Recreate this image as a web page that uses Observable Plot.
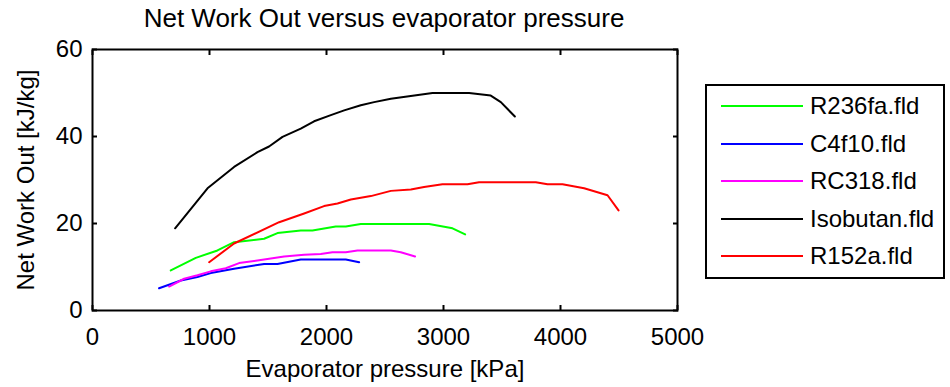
<!DOCTYPE html>
<html>
<head>
<meta charset="utf-8">
<script src="https://cdn.jsdelivr.net/npm/d3@7"></script>
<script src="https://cdn.jsdelivr.net/npm/@observablehq/plot@0.6"></script>
<style>
  html, body { margin: 0; padding: 0; background: #fff; }
  #wrap { position: relative; width: 950px; height: 387px; font-family: "Liberation Sans", Arial, sans-serif; }
  #title { position: absolute; left: 0; width: 768px; top: 3px; text-align: center; font-size: 26px; color: #000; white-space: nowrap; }
  #legend { position: absolute; left: 705px; top: 84px; width: 236px; height: 191px; border: 2px solid #000; background: #fff; }
  .item { position: absolute; left: 0; height: 30px; width: 236px; font-size: 24px; }
  .item svg { position: absolute; left: 14px; top: 14px; }
  .item span { position: absolute; left: 103px; top: 0; line-height: 30px; }
</style>
</head>
<body>
<div id="wrap">
  <div id="title">Net Work Out versus evaporator pressure</div>
  <div id="chart"></div>
  <div id="legend"></div>
</div>
<script>
// Series names and colours
const seriesNames = ["R236fa.fld", "C4f10.fld", "RC318.fld", "Isobutan.fld", "R152a.fld"];
const seriesColors = ["#00ff00", "#0000ff", "#ff00ff", "#000000", "#ff0000"];

// Evaporator pressure [kPa] and Net Work Out [kJ/kg] per fluid
const r236faP = [669, 883, 1068, 1210, 1467, 1581, 1780, 1880, 2079, 2165, 2293, 2550, 2877, 3077, 3185];
const r236faW = [9.2, 12.1, 13.8, 15.7, 16.5, 17.8, 18.4, 18.4, 19.3, 19.3, 19.9, 19.9, 19.9, 18.9, 17.5];

const c4f10P = [569, 755, 897, 1011, 1210, 1467, 1581, 1780, 2165, 2279];
const c4f10W = [5.1, 6.9, 7.7, 8.6, 9.6, 10.7, 10.7, 11.7, 11.7, 11.1];

const rc318P = [655, 783, 897, 1011, 1139, 1253, 1410, 1638, 1809, 1951, 2051, 2165, 2265, 2550, 2635, 2757];
const rc318W = [5.5, 7.3, 8.1, 9.0, 9.7, 10.9, 11.5, 12.4, 12.8, 13.0, 13.4, 13.4, 13.8, 13.8, 13.4, 12.4];

const isobutanP = [706, 983, 1210, 1410, 1509, 1624, 1780, 1894, 2037, 2151, 2293, 2407, 2550, 2906, 3219, 3404, 3490, 3610];
const isobutanW = [18.9, 28.1, 33.0, 36.4, 37.7, 39.9, 41.8, 43.5, 44.9, 46.0, 47.2, 47.9, 48.7, 50.0, 50.0, 49.4, 47.9, 44.6];

const r152aP = [997, 1210, 1595, 1809, 1979, 2094, 2208, 2379, 2550, 2721, 2834, 2991, 3205, 3304, 3789, 3889, 4017, 4202, 4402, 4496];
const r152aW = [11.1, 15.4, 20.3, 22.3, 24.0, 24.6, 25.5, 26.3, 27.5, 27.8, 28.4, 29.0, 29.0, 29.5, 29.5, 29.0, 29.0, 28.1, 26.5, 23.0];

// Axis ticks
const xTicks = [0, 1000, 2000, 3000, 4000, 5000];
const yTicks = [0, 20, 40, 60];

const seriesP = [r236faP, c4f10P, rc318P, isobutanP, r152aP];
const seriesW = [r236faW, c4f10W, rc318W, isobutanW, r152aW];

const rows = [];
seriesNames.forEach((name, i) => {
  seriesP[i].forEach((p, j) => rows.push({fluid: name, p, w: seriesW[i][j]}));
});

const chart = Plot.plot({
  width: 950,
  height: 387,
  marginLeft: 92,
  marginRight: 273,
  marginTop: 49,
  marginBottom: 77,
  style: {fontFamily: "'Liberation Sans', Arial, sans-serif", fontSize: "24px", color: "#000", background: "transparent"},
  x: {domain: [0, 5000]},
  y: {domain: [0, 60]},
  color: {domain: seriesNames, range: seriesColors},
  marks: [
    Plot.line(rows, {x: "p", y: "w", z: "fluid", stroke: "fluid", strokeWidth: 2}),
    Plot.frame({stroke: "#000", strokeWidth: 2}),
    Plot.axisX({anchor: "bottom", ticks: xTicks, tickSize: -5, tickPadding: 22, tickFormat: d => String(d), label: "Evaporator pressure [kPa]", labelAnchor: "center", labelOffset: 66, labelArrow: "none", strokeWidth: 2}),
    Plot.axisX({anchor: "top", ticks: xTicks, tickSize: -5, tickFormat: () => "", label: null, strokeWidth: 2}),
    Plot.axisY({anchor: "left", ticks: yTicks, tickSize: -5, tickPadding: 15, tickFormat: d => String(d), label: "Net Work Out [kJ/kg]", labelAnchor: "center", labelOffset: 76, labelArrow: "none", strokeWidth: 2}),
    Plot.axisY({anchor: "right", ticks: yTicks, tickSize: -5, tickFormat: () => "", label: null, strokeWidth: 2})
  ]
});
document.getElementById("chart").appendChild(chart);

// Legend
const legend = document.getElementById("legend");
seriesNames.forEach((name, i) => {
  const item = document.createElement("div");
  item.className = "item";
  item.style.top = (5 + i * 37.5) + "px";
  item.innerHTML = `<svg width="82" height="2"><line x1="0" y1="1" x2="82" y2="1" stroke="${seriesColors[i]}" stroke-width="2"/></svg><span>${name}</span>`;
  legend.appendChild(item);
});
</script>
</body>
</html>
